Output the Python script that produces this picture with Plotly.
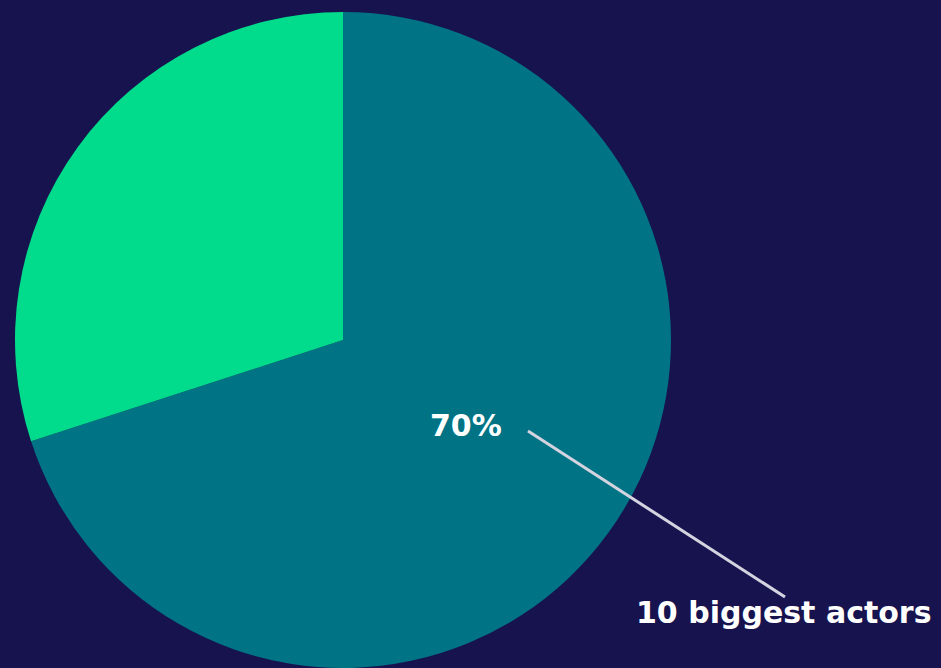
import plotly.graph_objects as go

labels = ["10 biggest actors", "Others"]
values = [70, 30]
colors = ["#007385", "#00DC8C"]
bg = "#17134F"

W, H = 941, 668

fig = go.Figure(go.Pie(
    labels=labels,
    values=values,
    marker=dict(colors=colors, line=dict(width=0)),
    sort=False,
    direction="clockwise",
    rotation=0,
    textinfo="none",
    hoverinfo="label+percent",
    domain=dict(x=[13 / W, 673 / W], y=[0, 1 - 12 / H]),
    showlegend=False,
))

share = round(100 * values[0] / sum(values))
font = dict(family="DejaVu Sans", size=30, color="white", weight="bold")

fig.add_annotation(text=f"{share}%", x=466 / W, y=1 - 425 / H, xref="paper", yref="paper",
                   showarrow=False, font=font, xanchor="center", yanchor="middle")
fig.add_annotation(text=labels[0], x=784 / W, y=1 - 612 / H, xref="paper", yref="paper",
                   showarrow=False, font=font, xanchor="center", yanchor="middle")
fig.add_shape(type="line", xref="paper", yref="paper",
              x0=528 / W, y0=1 - 431 / H, x1=785 / W, y1=1 - 597 / H,
              line=dict(color="#D4D4E0", width=3))

fig.update_layout(
    width=W, height=H,
    margin=dict(l=0, r=0, t=0, b=0),
    paper_bgcolor=bg, plot_bgcolor=bg,
)

fig.write_html("out.html")
